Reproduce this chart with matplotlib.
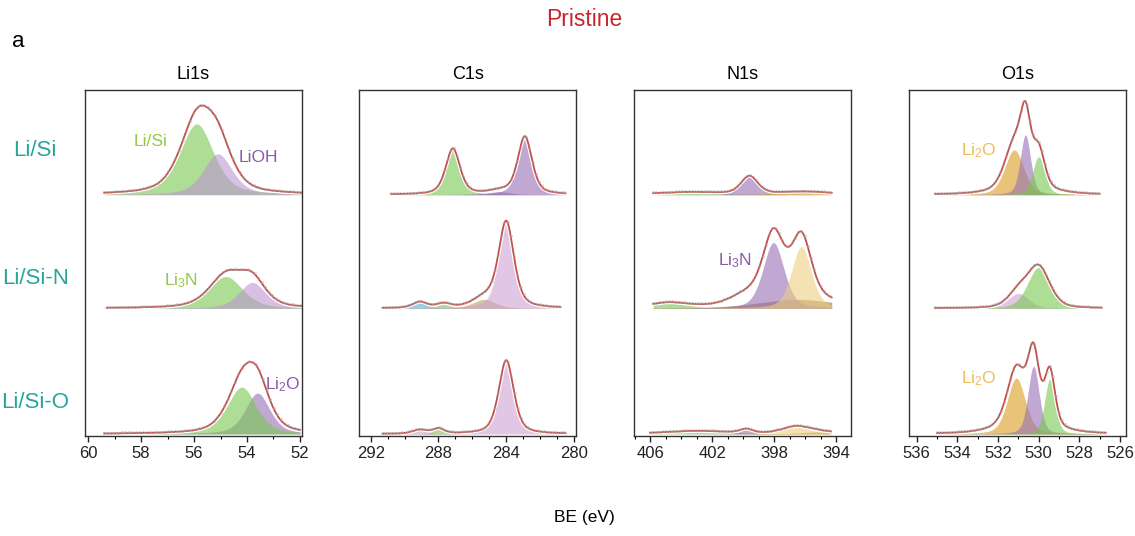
import numpy as np
import matplotlib
matplotlib.use('Agg')
import matplotlib.pyplot as plt
import matplotlib.patheffects as pe
from matplotlib.ticker import MultipleLocator

plt.rcParams['font.family'] = ['Liberation Sans', 'DejaVu Sans']
plt.rcParams['mathtext.fontset'] = 'custom'
plt.rcParams['mathtext.rm'] = 'Liberation Sans'
plt.rcParams['mathtext.default'] = 'regular'

PANELS = ['Li1s', 'C1s', 'N1s', 'O1s']
SAMPLES = ['Li/Si', 'Li/Si-N', 'Li/Si-O']

# fitted components for each sample row: (centre eV, height a.u., fwhm eV)
li1s_peaks = [
    [(55.9, 71, 1.5), (55.1, 41, 1.3)],
    [(54.8, 32, 1.5), (53.8, 26, 1.2)],
    [(53.6, 41, 1.1), (54.2, 47, 1.3)],
]
li1s_colours = [['green', 'lilac'], ['green', 'lilac'], ['purple', 'green']]
li1s_extra = [[], [], []]           # unassigned intensity (envelope only)
li1s_span = [(59.4, 51.92), (59.3, 51.92), (59.4, 52.0)]
li1s_ticks = [60, 58, 56, 54, 52]

c1s_peaks = [
    [(287.15, 46, 1.0), (282.9, 58, 1.0), (284.4, 3, 1.5)],
    [(289.1, 6, 1.0), (287.7, 4, 1.0), (285.3, 9, 1.6), (284.0, 86, 1.08)],
    [(289.1, 4, 1.0), (288.0, 5, 0.8), (284.0, 74, 1.05)],
]
c1s_colours = [['green', 'purple', 'purple'],
               ['cyan', 'green', 'tan', 'pink'],
               ['pink', 'green', 'pink']]
c1s_extra = [[], [], []]
c1s_span = [(290.8, 280.5), (291.3, 280.8), (291.3, 280.5)]
c1s_ticks = [292, 288, 284, 280]

n1s_peaks = [
    [(403.5, 2.5, 5.0), (399.6, 18, 1.3), (396.0, 3, 4.0)],
    [(396.5, 9, 6.0), (404.8, 5, 3.0), (398.05, 66, 1.6), (396.25, 62, 1.5)],
    [(403.0, 3, 5.0), (399.8, 4, 1.0), (396.6, 7, 2.2), (395.0, 2, 3.0)],
]
n1s_colours = [['green', 'purple', 'orange'],
               ['olive', 'green', 'purple', 'beige'],
               ['green', 'purple', 'beige', 'orange']]
n1s_extra = [[], [(399.8, 9, 2.5)], []]
n1s_span = [(405.8, 394.3), (405.8, 394.3), (406.0, 394.35)]
n1s_ticks = [406, 402, 398, 394]

o1s_peaks = [
    [(531.2, 45, 1.1), (530.65, 60, 0.6), (530.0, 38, 0.7)],
    [(531.0, 15, 1.2), (530.0, 41, 1.3)],
    [(531.1, 56, 1.05), (530.25, 68, 0.65), (529.45, 55, 0.6)],
]
o1s_colours = [['orange', 'purple', 'green'],
               ['pink', 'green'],
               ['orange', 'purple', 'green']]
o1s_extra = [[(530.7, 6, 3.0)], [], [(530.6, 10, 3.0)]]
o1s_span = [(535.1, 527.0), (535.1, 526.9), (535.0, 526.7)]
o1s_ticks = [536, 534, 532, 530, 528, 526]

# Lorentzian fraction of the line shape in each panel
eta = [0.5, 0.5, 0.4, 0.35]

# peak annotations: (panel, row, x eV, y a.u., text, colour)
notes = [
    (0, 0, 57.65, 295, 'Li/Si', '#96c846'),
    (0, 0, 53.57, 279, 'LiOH', '#8c5aaa'),
    (0, 1, 56.5, 156, 'Li$_3$N', '#96c846'),
    (0, 2, 52.63, 51, 'Li$_2$O', '#8c5aaa'),
    (2, 1, 400.5, 176, 'Li$_3$N', '#8c5aaa'),
    (3, 0, 532.94, 286, 'Li$_2$O', '#ebbe5a'),
    (3, 2, 532.94, 58, 'Li$_2$O', '#ebbe5a'),
]

FILL = {'green': '#78c850', 'lilac': '#be96d2', 'purple': '#966eb4',
        'pink': '#cda3d2', 'tan': '#bc9b61', 'cyan': '#50b4d5',
        'beige': '#eecd82', 'orange': '#d99b1e', 'olive': '#93713f'}

ROW_OFFSET = [242, 128, 2]
XLIMS = [(60.12, 51.92), (292.67, 279.88), (407.01, 393.07), (536.38, 525.7)]
AX_LEFT = [0.0749, 0.3166, 0.5589, 0.8009]
AX_WIDTH = [0.1912, 0.1909, 0.1907, 0.1912]


def pseudo_voigt(x, centre, height, fwhm, lfrac):
    u = (x - centre) / fwhm
    g = np.exp(-4 * np.log(2) * u ** 2)
    l = 1 / (1 + 4 * u ** 2)
    return height * (lfrac * l + (1 - lfrac) * g)


all_peaks = [li1s_peaks, c1s_peaks, n1s_peaks, o1s_peaks]
all_colours = [li1s_colours, c1s_colours, n1s_colours, o1s_colours]
all_extra = [li1s_extra, c1s_extra, n1s_extra, o1s_extra]
all_span = [li1s_span, c1s_span, n1s_span, o1s_span]
all_ticks = [li1s_ticks, c1s_ticks, n1s_ticks, o1s_ticks]

fig = plt.figure(figsize=(11.35, 5.36), dpi=100)

axes = []
for p, name in enumerate(PANELS):
    ax = fig.add_axes([AX_LEFT[p], 0.1866, AX_WIDTH[p], 0.6455])
    axes.append(ax)
    for r in range(len(SAMPLES)):
        base = ROW_OFFSET[r]
        x = np.linspace(all_span[p][r][0], all_span[p][r][1], 500)
        env = np.full_like(x, base, dtype=float)
        for (c, h, w), col in zip(all_peaks[p][r], all_colours[p][r]):
            y = pseudo_voigt(x, c, h, w, eta[p])
            env += y
            ax.fill_between(x, base, base + y, color=FILL[col], alpha=0.6, lw=0)
        for c, h, w in all_extra[p][r]:
            env += pseudo_voigt(x, c, h, w, eta[p])
        ax.plot(x, env, color='#c0504d', lw=1.3,
                path_effects=[pe.Stroke(linewidth=3, foreground='white'), pe.Normal()])
        ax.plot(x[::9], env[::9] + 0.8, 'o', ms=1.5, mfc='none',
                mec='#b0b0b0', mew=0.5, alpha=0.7)

    ax.set_xlim(*XLIMS[p])
    ax.set_ylim(0, 347)
    ax.set_yticks([])
    ax.set_xticks(all_ticks[p])
    ax.xaxis.set_minor_locator(MultipleLocator(1))
    ax.tick_params(axis='x', which='major', direction='out', length=4,
                   width=1, labelsize=12, colors='#222222')
    ax.tick_params(axis='x', which='minor', direction='out', length=2.5, width=0.8)
    for sp in ax.spines.values():
        sp.set_linewidth(1.0)
        sp.set_color('#333333')
    ax.set_title(name, fontsize=13, pad=8)

for p, r, xv, yv, txt, col in notes:
    axes[p].text(xv, yv, txt, fontsize=12.5, color=col, ha='center', va='center')

row_y = [0.720, 0.481, 0.250]
for lab, yy in zip(SAMPLES, row_y):
    fig.text(0.031, yy, lab, fontsize=16, color='#28a59b', ha='center', va='center')

fig.text(0.515, 0.963, 'Pristine', fontsize=16.5, color='#c8282d', ha='center', va='center')
fig.text(0.0106, 0.922, 'a', fontsize=16, ha='left', va='center')
fig.text(0.515, 0.034, 'BE (eV)', fontsize=12.5, ha='center', va='center')

fig.savefig('out.png', dpi=100)
